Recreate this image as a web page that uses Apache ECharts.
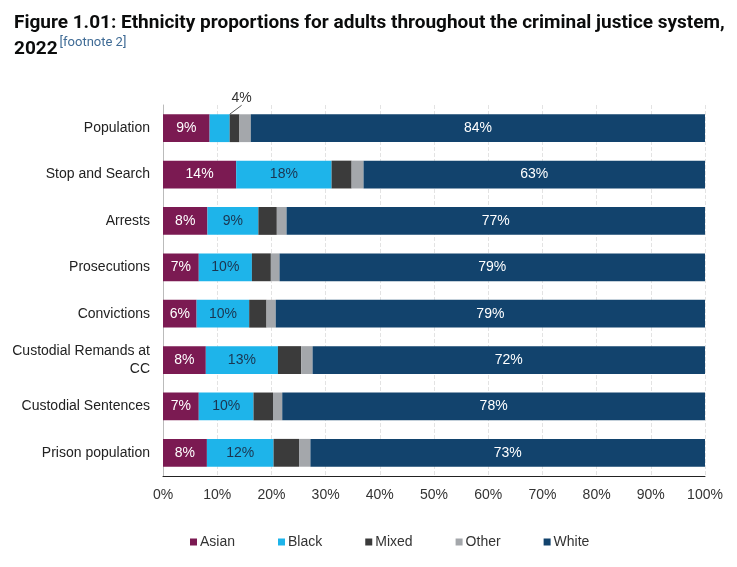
<!DOCTYPE html>
<html>
<head>
<meta charset="utf-8">
<script src="https://cdn.jsdelivr.net/npm/echarts@6/dist/echarts.min.js"></script>
<style>
  html, body { margin: 0; padding: 0; background: #fff; }
  #main { width: 737px; height: 567px; }
</style>
</head>
<body>
<div id="main"></div>
<script>
// stages of the criminal justice system, top to bottom
const categories = [
  'Population', 'Stop and Search', 'Arrests', 'Prosecutions',
  'Convictions', 'Custodial Remands at\nCC', 'Custodial Sentences', 'Prison population'
];
// percentage shares
const asian = [8.6, 13.5, 8.2, 6.6, 6.2, 7.9, 6.6, 8.1];
const black = [3.7, 17.6, 9.4, 9.8, 9.7, 13.3, 10.1, 12.3];
const mixed = [1.8, 3.7, 3.4, 3.5, 3.2, 4.3, 3.6, 4.7];
const other = [2.1, 2.2, 1.8, 1.6, 1.7, 2.1, 1.7, 2.1];
const white = [83.8, 63.0, 77.2, 78.5, 79.2, 72.4, 78.0, 72.8];
const xTicks = [0, 10, 20, 30, 40, 50, 60, 70, 80, 90, 100];

const colors = {
  Asian: '#7b1a52',
  Black: '#1eb4ea',
  Mixed: '#3b3b3b',
  Other: '#a4a7ab',
  White: '#12436d'
};

const font = 'Liberation Sans, Arial, sans-serif';
const pct = p => Math.round(p.value) + '%';

function makeSeries(name, data, labelOpt) {
  const s = {
    name: name,
    type: 'bar',
    stack: 'total',
    data: data,
    barCategoryGap: '40%',
    itemStyle: { color: colors[name] },
    label: { show: false },
    emphasis: { disabled: true }
  };
  if (labelOpt) s.label = Object.assign({ show: true, formatter: pct, fontSize: 14, fontFamily: font }, labelOpt);
  return s;
}

const blackSeries = makeSeries('Black', black.map((v, i) => {
  if (i === 0) {
    // small segment: label is called out above the bar
    return {
      value: v,
      label: { position: 'top', color: '#333', distance: 6 },
      labelLine: { show: true, lineStyle: { color: '#555', width: 1 } }
    };
  }
  return v;
}), { position: 'inside', color: '#1b3550' });
blackSeries.labelLayout = function (params) {
  if (params.dataIndex === 0) return { dx: 22, dy: -3 };
  return {};
};

const chart = echarts.init(document.getElementById('main'));
chart.setOption({
  backgroundColor: '#fff',
  animation: false,
  title: {
    text: '{t|Figure 1.01: Ethnicity proportions for adults throughout the criminal justice system,}\n{t|2022}{f|[footnote 2]}',
    left: 9,
    top: 5,
    textStyle: {
      rich: {
        t: { fontFamily: 'Roboto, sans-serif', fontWeight: 'bold', fontSize: 19, color: '#0b0c0c', lineHeight: 26 },
        f: { fontFamily: 'Roboto, sans-serif', fontWeight: 'normal', fontSize: 13, color: '#3f6b95', verticalAlign: 'top', padding: [0, 0, 14, 2] }
      }
    }
  },
  legend: {
    data: ['Asian', 'Black', 'Mixed', 'Other', 'White'],
    bottom: 13,
    left: 185,
    itemWidth: 7,
    itemHeight: 7,
    itemGap: 43,
    icon: 'rect',
    textStyle: { fontFamily: font, fontSize: 14, color: '#333', padding: [0, 0, 0, -2] }
  },
  grid: { left: 163, right: 32, top: 105, height: 371, containLabel: false },
  xAxis: {
    type: 'value',
    min: 0,
    max: 100,
    interval: 10,
    axisLine: { show: true, lineStyle: { color: '#222', width: 1 } },
    axisTick: { show: false },
    axisLabel: {
      formatter: v => (xTicks.indexOf(v) >= 0 ? v + '%' : ''),
      fontFamily: font,
      fontSize: 14,
      color: '#333',
      margin: 12
    },
    splitLine: { show: true, lineStyle: { color: '#e3e3e3', type: 'dashed', width: 1 } }
  },
  yAxis: {
    type: 'category',
    data: categories,
    inverse: true,
    axisLine: { show: true, lineStyle: { color: '#bbb', width: 1 } },
    axisTick: { show: false },
    axisLabel: {
      fontFamily: font,
      fontSize: 14,
      color: '#222',
      margin: 13,
      lineHeight: 18
    }
  },
  series: [
    makeSeries('Asian', asian, { position: 'inside', color: '#fff' }),
    blackSeries,
    makeSeries('Mixed', mixed),
    makeSeries('Other', other),
    makeSeries('White', white, { position: 'inside', color: '#fff' })
  ]
});
</script>
</body>
</html>
